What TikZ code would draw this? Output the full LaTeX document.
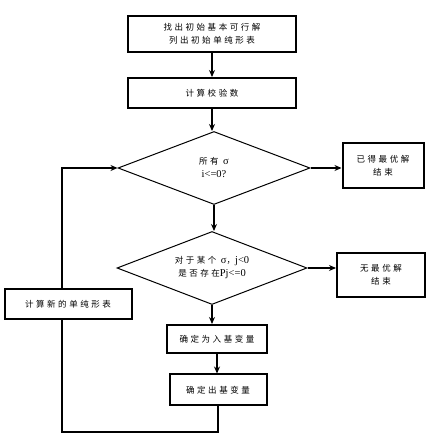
\documentclass[tikz,border=0pt]{standalone}
\usepackage{fontspec}
\newfontfamily\cjk[LetterSpace=30]{Noto Sans CJK SC}
\newfontfamily\latin{Liberation Serif}
\usetikzlibrary{shapes.geometric, arrows.meta}

\newcommand{\ltn}[1]{{\latin\fontsize{10.5}{13}\selectfont #1}}

\tikzset{
    stepbox/.style={draw, line width=2pt, font=\cjk\fontsize{8.5}{13}\selectfont,
        align=center, inner sep=0pt},
    testbox/.style={draw, diamond, line width=1pt, inner sep=0pt,
        font=\cjk\fontsize{8.5}{13}\selectfont, align=center},
    flow/.style={line width=1.2pt, -{Stealth[length=7pt, width=6pt]}},
}

\begin{document}
\begin{tikzpicture}[x=1pt, y=-1pt]
    \useasboundingbox (0,0) rectangle (448,446);

    \node[stepbox, minimum width=168pt, minimum height=36pt] (start) at (212, 34)
        {找出初始基本可行解\\列出初始单纯形表};
    \node[stepbox, minimum width=168pt, minimum height=30pt] (check) at (212, 93)
        {计算校验数};
    \node[testbox, minimum width=192pt, minimum height=73pt, aspect=2.63] (allneg) at (214, 168)
        {所有 \ltn{σ}\\\ltn{i<=0?}};
    \node[stepbox, minimum width=81pt, minimum height=45pt] (optimal) at (383, 166)
        {已得最优解\\结束};
    \node[testbox, minimum width=190pt, minimum height=73pt, aspect=2.6] (unbound) at (212, 268)
        {对于某个 \ltn{σ}，\ltn{j<0}\\是否存在\ltn{Pj<=0}};
    \node[stepbox, minimum width=88pt, minimum height=44pt] (noopt) at (381, 275)
        {无最优解\\结束};
    \node[stepbox, minimum width=127pt, minimum height=30pt] (newtab) at (68, 304)
        {计算新的单纯形表};
    \node[stepbox, minimum width=100pt, minimum height=28pt] (enter) at (217, 339)
        {确定为入基变量};
    \node[stepbox, minimum width=97pt, minimum height=31pt] (leave) at (218, 390)
        {确定出基变量};
    \coordinate (corner) at (62, 432);

    \draw[flow] (start) -- (check);
    \draw[flow] (check.south) -- (check.south |- allneg.north);
    \draw[flow] (allneg.east) -- (allneg.east -| optimal.west);
    \draw[flow] (allneg.south) -- (allneg.south |- unbound.north);
    \draw[flow] (unbound.east) -- (unbound.east -| noopt.west);
    \draw[flow] (unbound.south) -- (unbound.south |- enter.north);
    \draw[flow] (enter.south) -- (enter.south |- leave.north);

    \draw[line width=1.2pt] (leave.south) |- (corner) -- (corner |- newtab.south);
    \draw[flow] (newtab.north -| corner) |- (allneg.west);
\end{tikzpicture}
\end{document}
